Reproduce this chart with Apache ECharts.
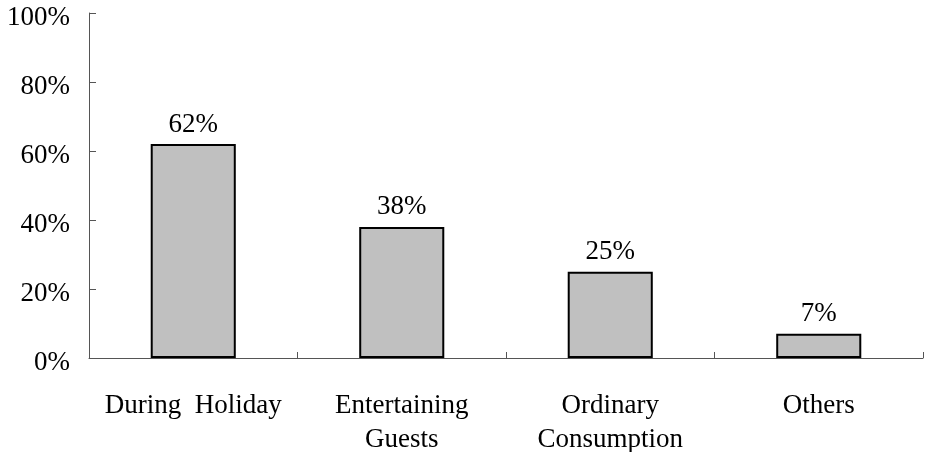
<!DOCTYPE html>
<html><head><meta charset="utf-8">
<script src="https://cdn.jsdelivr.net/npm/echarts@6/dist/echarts.min.js"></script>
<style>html,body{margin:0;padding:0;background:#fff}#c{width:925px;height:452px}</style>
</head><body><div id="c"></div>
<script>
const categories = ['During  Holiday', 'Entertaining\nGuests', 'Ordinary\nConsumption', 'Others'];
const values = [62, 38, 25, 7];
const yTicks = [0, 20, 40, 60, 80, 100];

const font = '"Liberation Serif", "Times New Roman", serif';
const chart = echarts.init(document.getElementById('c'));
chart.setOption({
  animation: false,
  grid: { left: 89, right: 2, top: 13, bottom: 94, containLabel: false, outerBoundsMode: 'none' },
  xAxis: {
    type: 'category',
    data: categories,
    axisLine: { lineStyle: { color: '#555', width: 1 } },
    axisTick: { show: true, inside: true, length: 6, alignWithLabel: false, lineStyle: { color: '#555' } },
    axisLabel: { fontFamily: font, fontSize: 27, color: '#000', margin: 31, lineHeight: 34, interval: 0 }
  },
  yAxis: {
    type: 'value',
    min: 0, max: 100, interval: 20,
    splitLine: { show: false },
    axisLine: { show: true, lineStyle: { color: '#555', width: 1 } },
    axisTick: { show: true, inside: true, length: 7, lineStyle: { color: '#555' } },
    axisLabel: { fontFamily: font, fontSize: 27, color: '#000', margin: 19,
      formatter: v => yTicks.includes(v) ? '{a|' + v + '%}' : '',
      rich: { a: { fontFamily: font, fontSize: 27, color: '#000', padding: [10, 0, 0, 0] } } }
  },
  series: [{
    type: 'bar',
    data: values,
    barWidth: '40.8%',
    itemStyle: { color: '#c0c0c0', borderColor: '#000', borderWidth: 2 },
    label: { show: true, position: 'top', distance: 6, fontFamily: font, fontSize: 27, color: '#000', formatter: p => p.value + '%' }
  }]
});
</script></body></html>
